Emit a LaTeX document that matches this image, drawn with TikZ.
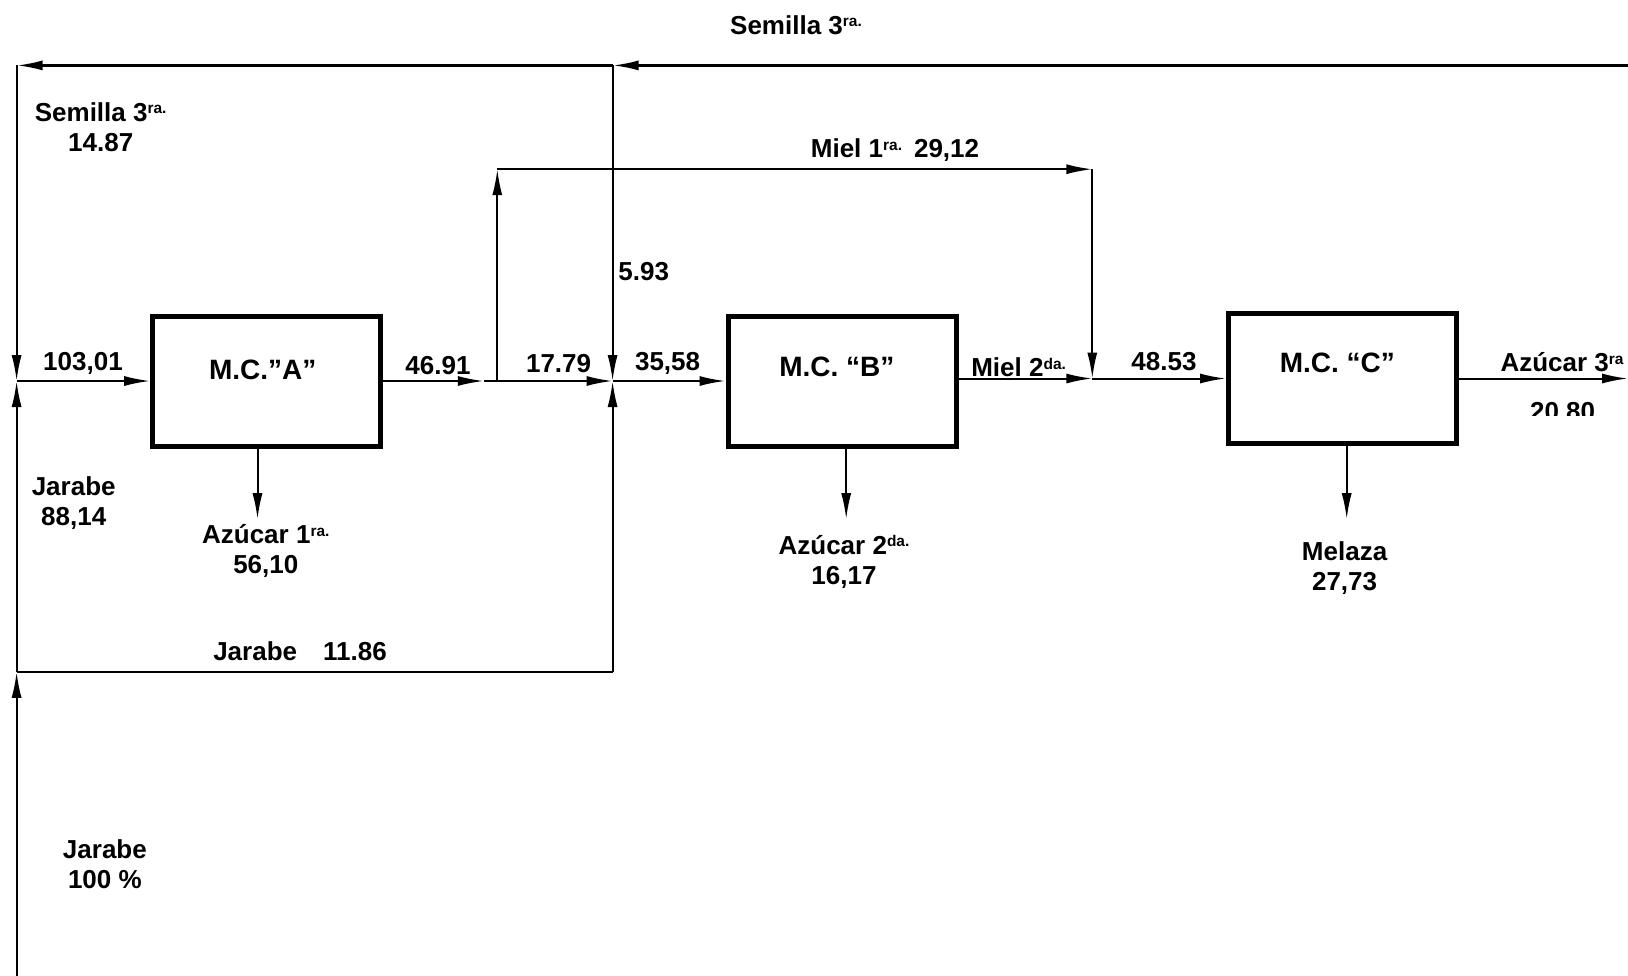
\documentclass[tikz,border=0pt]{standalone}
\usepackage{fontspec}
\setmainfont{Liberation Sans}
\usetikzlibrary{arrows.meta}
\newcommand\supx[1]{\raisebox{7.5pt}{\fontsize{15.5}{15.5}\selectfont #1}}
\begin{document}
\begin{tikzpicture}[x=1pt,y=-1pt,
 flow/.style={line width=2pt,-{Latex[length=26pt,width=10pt]}},
 plain/.style={line width=2pt},
 box/.style={draw,line width=5pt,minimum width=228pt,minimum height=130pt,inner sep=0pt},
 lbl/.style={font=\fontsize{26}{30}\selectfont\bfseries,inner sep=0pt,align=center},
 blbl/.style={font=\fontsize{28}{30}\selectfont\bfseries,inner sep=0pt}]
\useasboundingbox (0,0) rectangle (1628,975);
% boxes
\node[box] (A) at (266.7,381) {};
\node[box] (B) at (842,381) {};
\node[box] (C) at (1342.5,378.5) {};
\node[blbl] (tA) at (262.7,369.6) {M.C.”A”};
\node[blbl] (tB) at (836.9,366.5) {M.C. “B”};
\node[blbl] (tC) at (1337.3,362.4) {M.C. “C”};
% coordinates
\coordinate (jL) at (16.6,381);
\coordinate (tL) at (16.6,65.4);
\coordinate (tM) at (612.6,65.4);
\coordinate (tR) at (1630,65.4);
\coordinate (jM) at (612.6,381);
\coordinate (m1) at (483.8,381);
\coordinate (s1) at (497.3,381);
\coordinate (s1t) at (497.3,169.2);
\coordinate (mt) at (1092.3,169.2);
\coordinate (jR) at (1092.3,378.5);
\coordinate (outC) at (1628,378.5);
\coordinate (bL) at (16.6,976);
\coordinate (jb) at (16.6,671.8);
\coordinate (jbr) at (612.6,671.8);
\coordinate (dA) at (257.5,519.2);
\coordinate (dB) at (846.2,519.2);
\coordinate (dC) at (1346.7,519.2);
% connectors
\draw[flow,line width=2.5pt] (tR) -- (tM);
\draw[flow,line width=2.5pt] (tM) -- (tL);
\draw[flow] (tL) -- (jL);
\draw[flow] (tM) -- (jM);
\draw[flow] (bL) -- (jb);
\draw[flow] (jb) -- (jL);
\draw[plain] (jb) -- (jbr);
\draw[flow] (jbr) -- (jM);
\draw[flow] (jL) -- (A.west);
\draw[flow] (A.east) -- (m1);
\draw[flow] (m1) -- (jM);
\draw[flow] (s1) -- (s1t);
\draw[flow] (s1t) -- (mt);
\draw[flow] (mt) -- (jR);
\draw[flow] (jM) -- (B.west);
\draw[flow] (B.east |- jR) -- (jR);
\draw[flow] (jR) -- (C.west);
\draw[flow] (C.east) -- (outC);
\draw[flow] (A.south -| dA) -- (dA);
\draw[flow] (B.south -| dB) -- (dB);
\draw[flow] (C.south -| dC) -- (dC);
% labels
\node[lbl] (l1) at (796,25) {Semilla 3\supx{ra.}};
\node[lbl] (l2) at (100.7,127) {Semilla 3\supx{ra.}\\14.87};
\node[lbl] (l3) at (895,150.5) {Miel 1\supx{ra.}\hspace{12pt}29,12};
\node[lbl] (l4) at (643.7,272) {5.93};
\node[lbl] (l5) at (83,363.4) {103,01};
\node[lbl] (l6) at (438,365.5) {46.91};
\node[lbl] (l7) at (558.6,363.4) {17.79};
\node[lbl] (l8) at (667.6,363.4) {35,58};
\node[lbl] (l9) at (1018.6,367.6) {Miel 2\supx{da.}};
\node[lbl] (l10) at (1164,361.3) {48.53};
\node[lbl,anchor=west] (l11) at (1500.3,362.4) {Azúcar 3\supx{ra}};
\begin{scope}
\clip (1450,390) rectangle (1628,415);
\node[lbl] (l12) at (1562.6,412) {20.80};
\end{scope}
\node[lbl] (l13) at (73.7,503) {Jarabe\\88,14};
\node[lbl] (l14) at (265.8,551) {Azúcar 1\supx{ra.}\\56,10};
\node[lbl] (l15) at (844,561.5) {Azúcar 2\supx{da.}\\16,17};
\node[lbl] (l16) at (1344.6,568.5) {Melaza\\27,73};
\node[lbl] (l17) at (300,651) {Jarabe\hspace{26pt}11.86};
\node[lbl] (l18) at (104.9,864) {Jarabe\\100 \%};
\end{tikzpicture}
\end{document}
